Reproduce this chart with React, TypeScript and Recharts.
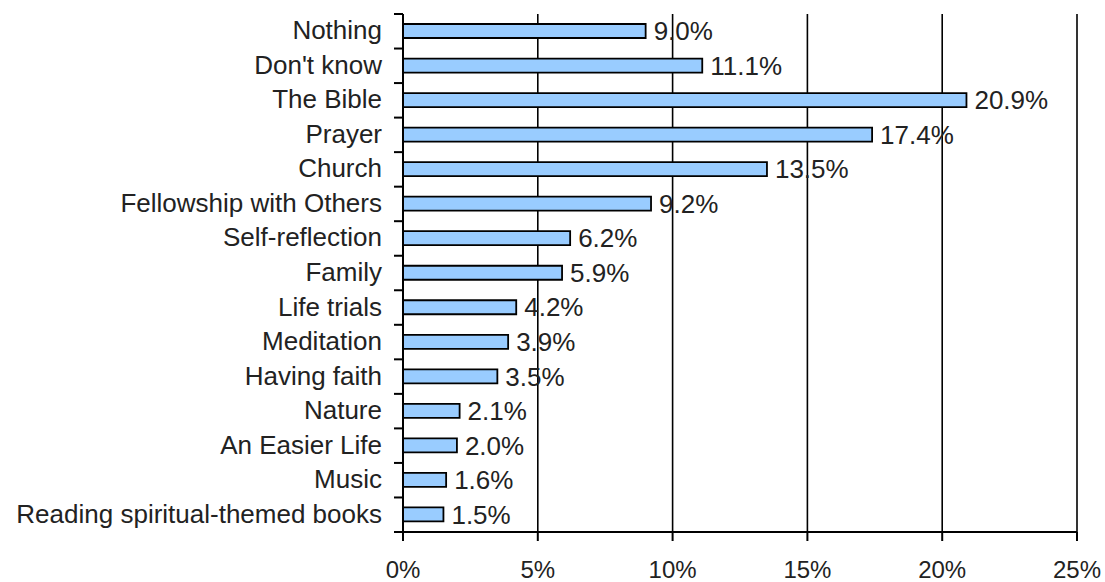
import React from "react";
import { BarChart, Bar, XAxis, YAxis, CartesianGrid, LabelList } from "recharts";

const categories = [
  "Nothing",
  "Don't know",
  "The Bible",
  "Prayer",
  "Church",
  "Fellowship with Others",
  "Self-reflection",
  "Family",
  "Life trials",
  "Meditation",
  "Having faith",
  "Nature",
  "An Easier Life",
  "Music",
  "Reading spiritual-themed books",
];
const values = [9.0, 11.1, 20.9, 17.4, 13.5, 9.2, 6.2, 5.9, 4.2, 3.9, 3.5, 2.1, 2.0, 1.6, 1.5];
const xTicks = [0, 5, 10, 15, 20, 25];

const data = categories.map((name, i) => ({ name, value: values[i] }));

const WIDTH = 1105;
const HEIGHT = 582;
const MARGIN = { top: 14, right: 28, left: 0, bottom: 0 };
const X_AXIS_H = 50;
const Y_AXIS_W = 403;
const HALF_BAND = (HEIGHT - MARGIN.top - MARGIN.bottom - X_AXIS_H) / categories.length / 2;
const FONT = "'Liberation Sans', Arial, sans-serif";

const CategoryTick = (props: any) => {
  const { x, y, payload, index } = props;
  return (
    <g>
      <line x1={x - 9} x2={x} y1={y - HALF_BAND} y2={y - HALF_BAND} stroke="#000" strokeWidth={2} />
      {index === categories.length - 1 && (
        <line x1={x - 9} x2={x} y1={y + HALF_BAND} y2={y + HALF_BAND} stroke="#000" strokeWidth={2} />
      )}
      <text
        x={x - 21}
        y={y - 1}
        textAnchor="end"
        dominantBaseline="central"
        fontSize={26}
        fontFamily={FONT}
        fill="#222"
      >
        {payload.value}
      </text>
    </g>
  );
};

export default function App() {
  return (
    <div style={{ position: "absolute", left: 0, top: 0, width: WIDTH, height: HEIGHT, background: "#fff" }}>
      <BarChart width={WIDTH} height={HEIGHT} data={data} layout="vertical" margin={MARGIN}>
        <CartesianGrid horizontal={false} stroke="#000" strokeWidth={1.6} />
        <XAxis
          type="number"
          domain={[0, 25]}
          ticks={xTicks}
          tickFormatter={(v: number) => `${v}%`}
          height={X_AXIS_H}
          tickSize={9}
          tickMargin={20}
          axisLine={{ stroke: "#000", strokeWidth: 2 }}
          tickLine={{ stroke: "#000", strokeWidth: 2 }}
          tick={{ fontSize: 24, fill: "#222", fontFamily: FONT }}
          interval={0}
        />
        <YAxis
          type="category"
          dataKey="name"
          width={Y_AXIS_W}
          tickSize={0}
          tickMargin={0}
          tickLine={false}
          axisLine={{ stroke: "#000", strokeWidth: 2 }}
          tick={<CategoryTick />}
          interval={0}
        />
        <Bar dataKey="value" barSize={14} fill="#99CCFF" stroke="#000" strokeWidth={1.8} isAnimationActive={false}>
          <LabelList
            dataKey="value"
            position="right"
            offset={8}
            formatter={(v: number) => `${v.toFixed(1)}%`}
            style={{ fontSize: 26, fill: "#222", fontFamily: FONT }}
          />
        </Bar>
      </BarChart>
    </div>
  );
}
